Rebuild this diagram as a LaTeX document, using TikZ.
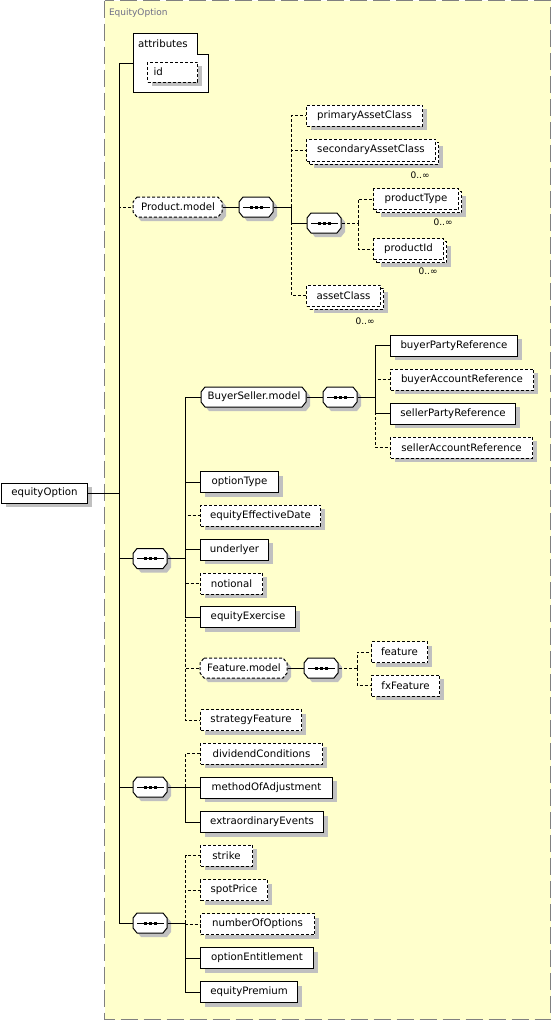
\documentclass[tikz,border=0pt]{standalone}
\usepackage{fontspec}
\setmainfont{DejaVu Sans}
\usetikzlibrary{shadows}
\definecolor{boxyellow}{RGB}{255,255,204}
\definecolor{boxgray}{RGB}{128,128,128}
\definecolor{shadowgray}{RGB}{192,192,192}
\definecolor{lblgray}{RGB}{110,110,135}
% octagon (model group / compositor): name, left x, centre y, width, extra path options, text
\newcommand{\octbox}[6]{%
  \path[octshape,#5] (#2+4,#3-10) -- (#2+#4-4,#3-10) -- (#2+#4,#3-5) -- (#2+#4,#3+5)
     -- (#2+#4-4,#3+10) -- (#2+4,#3+10) -- (#2,#3+5) -- (#2,#3-5) -- cycle;
  \node[octlabel, minimum width=#4pt] (#1) at (#2,#3) {#6};
}
% sequence compositor: name, left x, centre y
\newcommand{\seqbox}[3]{%
  \octbox{#1}{#2}{#3}{34}{}{}
  \draw[seqline] ([xshift=4pt]#1.west) -- ([xshift=-4pt]#1.east);
  \foreach \d in {-5,0,5} \fill[black] ([xshift=\d pt]#1.center) +(-1.5pt,-1.5pt) rectangle +(1.5pt,1.5pt);
}
\begin{document}
\begin{tikzpicture}[x=1pt,y=-1pt, line width=1pt,
  every node/.style={font=\fontsize{10.2}{12}\selectfont, text=black},
  dsh/.style={dash pattern=on 3pt off 2pt},
  shd/.style={general shadow={fill=shadowgray, shadow xshift=4pt, shadow yshift=-4pt}},
  multi/.style={general shadow={fill=shadowgray, shadow xshift=7pt, shadow yshift=-7pt},
                general shadow={fill=white, draw=black, dash pattern=on 3pt off 2pt, shadow xshift=3pt, shadow yshift=-3pt}},
  box/.style={draw, fill=white, rectangle, minimum height=21pt, inner xsep=1pt, inner ysep=0pt, anchor=west},
  req/.style={box, shd},
  opt/.style={box, dsh, shd},
  optm/.style={box, dsh, multi},
  octshape/.style={draw, fill=white, shd},
  octlabel/.style={rectangle, minimum height=20pt, inner sep=0pt, anchor=west},
  seqline/.style={line width=1pt},
  card/.style={anchor=east, inner sep=0pt, font=\fontsize{9}{10}\selectfont}
]
\useasboundingbox (0,0) rectangle (551,1020);
% container
\draw[draw=boxgray, fill=boxyellow, dash pattern=on 17pt off 6pt] (104.5,0.5) rectangle (550.5,1019.5);
\node[anchor=west, inner sep=0pt, text=lblgray, font=\fontsize{9}{10}\selectfont] (title) at (108.5,13) {EquityOption};

% attributes
\node[minimum width=75pt, minimum height=59pt, anchor=north west, inner sep=0pt] (attr) at (133,33) {};
\draw[fill=white] (133,33) -- (197,33) -- (197,54) -- (208,54) -- (208,92) -- (133,92) -- cycle;
\node[anchor=west, inner sep=0pt] (attrlbl) at (137.5,43.5) {attributes};
\node[opt, minimum width=50pt, minimum height=20pt, text width=38pt, inner xsep=6pt, align=left] (id) at (147,72) {id};

% root
\node[req, minimum width=86pt, minimum height=20pt] (root) at (1,493) {equityOption};
\coordinate (J0) at (119,493);

% Product.model
\octbox{prodm}{133}{207}{89}{dsh}{Product.model}
\seqbox{seqA}{239}{207}
\coordinate (JA) at (291.5,207);
\node[opt, minimum width=116pt] (pac) at (306,115.5) {primaryAssetClass};
\node[optm, minimum width=129pt, minimum height=22pt] (sac) at (306,150) {secondaryAssetClass};
\node[card] (sacN) at (430,175) {0..∞};
\seqbox{seqB}{307}{223}
\coordinate (JB) at (358,223);
\node[optm, minimum width=85pt] (ptype) at (373,199) {productType};
\node[card] (ptypeN) at (453,222.5) {0..∞};
\node[optm, minimum width=70pt] (pid) at (373,249) {productId};
\node[card] (pidN) at (438,271) {0..∞};
\node[optm, minimum width=74pt] (ac) at (306,295.5) {assetClass};
\node[card] (acN) at (375,321) {0..∞};

% main sequence 1
\seqbox{seqM1}{133}{558.5}
\coordinate (JM) at (185.5,558.5);
\octbox{bsm}{201}{397}{105}{}{BuyerSeller.model}
\seqbox{seqC}{323}{397}
\coordinate (JC) at (375,397);
\node[req, minimum width=127pt] (bpr) at (390,345.5) {buyerPartyReference};
\node[opt, minimum width=143pt] (bar) at (390,379.5) {buyerAccountReference};
\node[req, minimum width=125pt] (spr) at (390,413.5) {sellerPartyReference};
\node[opt, minimum width=142pt] (sar) at (390,447.5) {sellerAccountReference};

\node[req, minimum width=78pt] (otype) at (200,482) {optionType};
\node[opt, minimum width=120pt] (eed) at (200,515.5) {equityEffectiveDate};
\node[req, minimum width=68pt] (und) at (200,549.5) {underlyer};
\node[opt, minimum width=62pt] (notl) at (200,583.5) {notional};
\node[req, minimum width=95pt] (eex) at (200,617) {equityExercise};
\octbox{featm}{200}{668}{87}{dsh}{Feature.model}
\seqbox{seqD}{304}{668}
\coordinate (JD) at (357,668);
\node[opt, minimum width=56pt] (feat) at (371,652) {feature};
\node[opt, minimum width=68pt] (fxf) at (371,685.5) {fxFeature};
\node[opt, minimum width=101pt] (stf) at (200,720) {strategyFeature};

% main sequence 2
\seqbox{seqM2}{133}{787}
\coordinate (JM2) at (185.5,787);
\node[opt, minimum width=122pt] (divc) at (200,753.5) {dividendConditions};
\node[req, minimum width=132pt] (moa) at (200,787.5) {methodOfAdjustment};
\node[req, minimum width=123pt] (exev) at (200,822) {extraordinaryEvents};

% main sequence 3
\seqbox{seqM3}{133}{923}
\coordinate (JM3) at (185.5,923);
\node[opt, minimum width=52pt] (strk) at (200,855.5) {strike};
\node[opt, minimum width=67pt] (spot) at (200,890) {spotPrice};
\node[opt, minimum width=114pt] (noo) at (200,924) {numberOfOptions};
\node[req, minimum width=113pt] (oent) at (200,958) {optionEntitlement};
\node[req, minimum width=97pt] (eprem) at (200,992) {equityPremium};

% connectors
\draw (root.east) -- (J0);
\draw[dsh] (J0) |- (prodm.west);
\draw (J0) |- (attr.west);
\draw (J0) |- (seqM1.west);
\draw (J0) |- (seqM2.west);
\draw (J0) |- (seqM3.west);

\draw (prodm.east) -- (seqA.west);
\draw (seqA.east) -- (JA);
\draw[dsh] (JA) |- (pac.west);
\draw[dsh] (JA) |- (sac.west);
\draw (JA) |- (seqB.west);
\draw[dsh] (JA) |- (ac.west);
\draw[dsh] (seqB.east) -- (JB);
\draw[dsh] (JB) |- (ptype.west);
\draw[dsh] (JB) |- (pid.west);

\draw (seqM1.east) -- (JM);
\draw (JM) |- (bsm.west);
\draw (JM) |- (otype.west);
\draw[dsh] (JM) |- (eed.west);
\draw (JM) |- (und.west);
\draw[dsh] (JM) |- (notl.west);
\draw (JM) |- (eex.west);
\draw[dsh] (JM) |- (featm.west);
\draw[dsh] (JM) |- (stf.west);
\draw (bsm.east) -- (seqC.west);
\draw (seqC.east) -- (JC);
\draw (JC) |- (bpr.west);
\draw[dsh] (JC) |- (bar.west);
\draw (JC) |- (spr.west);
\draw[dsh] (JC) |- (sar.west);
\draw (featm.east) -- (seqD.west);
\draw[dsh] (seqD.east) -- (JD);
\draw[dsh] (JD) |- (feat.west);
\draw[dsh] (JD) |- (fxf.west);

\draw (seqM2.east) -- (JM2);
\draw[dsh] (JM2) |- (divc.west);
\draw (JM2) |- (moa.west);
\draw (JM2) |- (exev.west);

\draw (seqM3.east) -- (JM3);
\draw[dsh] (JM3) |- (strk.west);
\draw[dsh] (JM3) |- (spot.west);
\draw[dsh] (JM3) |- (noo.west);
\draw (JM3) |- (oent.west);
\draw (JM3) |- (eprem.west);
\end{tikzpicture}
\end{document}
